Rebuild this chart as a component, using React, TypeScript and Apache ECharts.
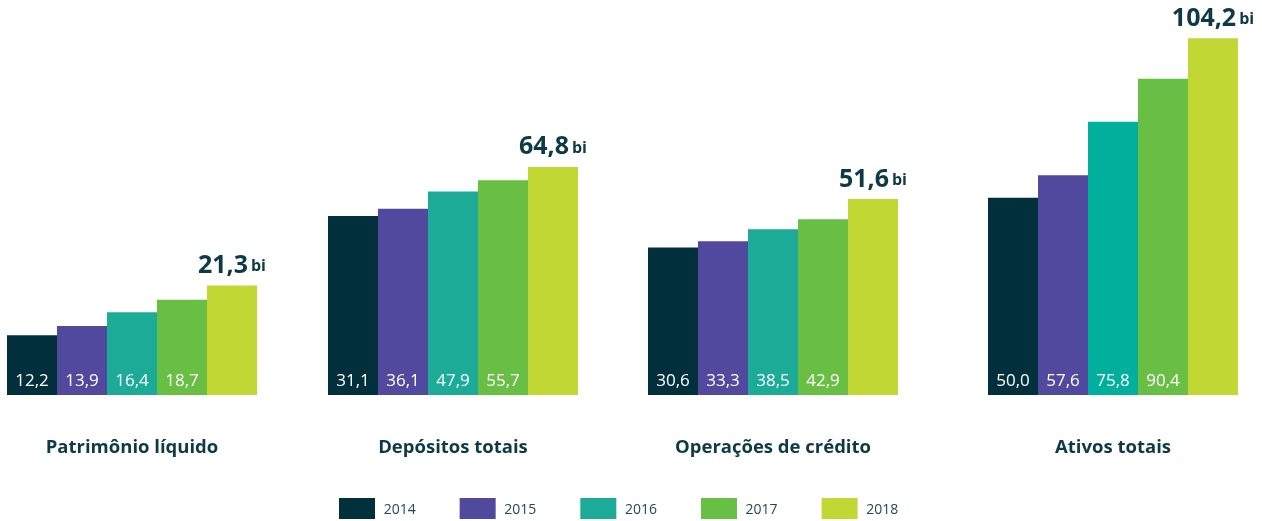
import React, { useEffect, useRef } from 'react';
import * as echarts from 'echarts';

const categories = ['Patrimônio líquido', 'Depósitos totais', 'Operações de crédito', 'Ativos totais'];
const years = ['2014', '2015', '2016', '2017', '2018'];
const values2014 = [12.2, 31.1, 30.6, 50.0];
const values2015 = [13.9, 36.1, 33.3, 57.6];
const values2016 = [16.4, 47.9, 38.5, 75.8];
const values2017 = [18.7, 55.7, 42.9, 90.4];
const values2018 = [21.3, 64.8, 51.6, 104.2];
const seriesValues = [values2014, values2015, values2016, values2017, values2018];
const unit = 'bi';

// The source does not draw the four groups on one common zero-based scale,
// so each group has its own value axis range.
const axisMin = [1.3, -91.7, -33.3, -17.1];
const axisMax = [73.4, 179.4, 137.9, 117.2];

const yearColors = ['#022f3c', '#51499e', '#1cab97', '#69be44', '#c1d734'];
const gridLeft = [7, 328, 648, 988];
const FONT = '"Open Sans", "Noto Sans", sans-serif';
const DARK = '#0e3a47';

const fmt = (v: number) => v.toFixed(1).replace('.', ',');

export default function App() {
  const ref = useRef<HTMLDivElement>(null);
  useEffect(() => {
    if (!ref.current) return;
    const chart = echarts.init(ref.current, undefined, { renderer: 'svg' });

    const grid: any[] = [];
    const xAxis: any[] = [];
    const yAxis: any[] = [];
    const series: any[] = [];

    categories.forEach((cat, g) => {
      grid.push({ left: gridLeft[g], width: 250, top: 0, height: 395 });
      xAxis.push({
        gridIndex: g,
        type: 'category',
        data: years,
        boundaryGap: true,
        axisLine: { show: false },
        axisTick: { show: false },
        axisLabel: { show: false },
        splitLine: { show: false },
        name: cat,
        nameLocation: 'middle',
        nameGap: 41,
        nameTextStyle: { color: DARK, fontSize: 18.5, fontWeight: 'bold', fontFamily: FONT },
      });
      yAxis.push({ gridIndex: g, type: 'value', min: axisMin[g], max: axisMax[g], show: false });

      years.forEach((yr, yi) => {
        const color = g === 3 && yi === 2 ? '#00b09c' : yearColors[yi];
        const isLast = yi === years.length - 1;
        series.push({
          type: 'custom',
          name: yr,
          xAxisIndex: g,
          yAxisIndex: g,
          itemStyle: { color: yearColors[yi] },
          encode: { x: 0, y: 1 },
          data: [[yi, seriesValues[yi][g]]],
          renderItem: (params: any, api: any) => {
            const v = api.value(1);
            const pt = api.coord([api.value(0), v]);
            const w = api.size([1, 0])[0];
            const cs = params.coordSys;
            const base = cs.y + cs.height;
            const children: any[] = [
              {
                type: 'rect',
                shape: { x: pt[0] - w / 2, y: pt[1], width: w, height: base - pt[1] },
                style: { fill: color },
              },
            ];
            if (isLast) {
              children.push({
                type: 'text',
                x: pt[0],
                y: pt[1] - 10,
                style: {
                  text: '{v|' + fmt(v) + '}{u|' + unit + '}',
                  align: 'center',
                  verticalAlign: 'bottom',
                  rich: {
                    v: { fontSize: 25, fontWeight: 'bold', fill: DARK, fontFamily: FONT, lineHeight: 30, verticalAlign: 'bottom' },
                    u: { fontSize: 16, fontWeight: 'bold', fill: DARK, fontFamily: FONT, lineHeight: 30, padding: [0, 0, 2, 3], verticalAlign: 'bottom' },
                  },
                },
              });
            } else {
              children.push({
                type: 'text',
                x: pt[0],
                y: base - 16,
                style: {
                  text: fmt(v),
                  align: 'center',
                  verticalAlign: 'middle',
                  fill: '#ffffff',
                  fontSize: 17,
                  fontFamily: FONT,
                },
              });
            }
            return { type: 'group', children };
          },
        });
      });
    });

    chart.setOption({
      animation: false,
      color: yearColors,
      grid,
      xAxis,
      yAxis,
      series,
      legend: {
        data: years,
        left: 339,
        top: 498,
        padding: 0,
        icon: 'rect',
        itemWidth: 36,
        itemHeight: 21,
        itemGap: 44,
        selectedMode: false,
        formatter: (name: string) => ' ' + name,
        textStyle: { color: '#1f4a52', fontSize: 14, fontFamily: FONT, lineHeight: 16 },
      },
    });
    return () => chart.dispose();
  }, []);
  return <div ref={ref} style={{ position: 'fixed', left: 0, top: 0, width: 1262, height: 521 }} />;
}
